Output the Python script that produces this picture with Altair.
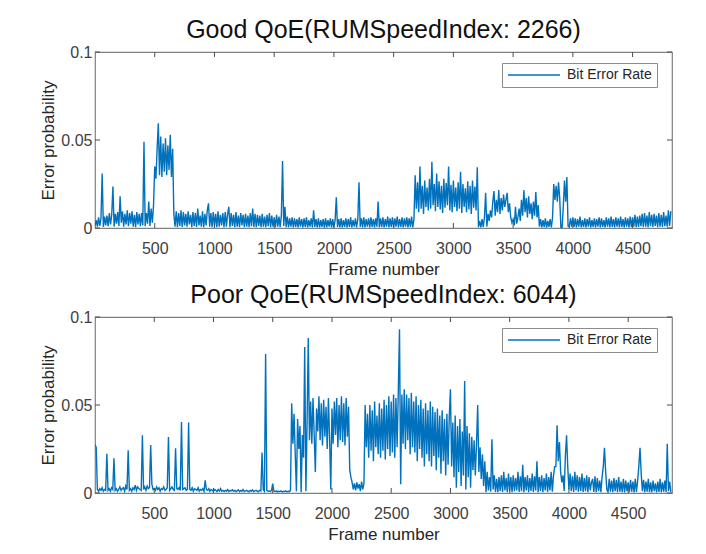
import altair as alt
import pandas as pd

STEP = 10  # frames between stored samples
SERIES = "Bit Error Rate"
LINE_COLOR = "#0072BD"

# Bit error rate, in units of 1e-4, one value every 10 frames
good_ber_e4 = [
    10, 45, 8, 60, 12, 55, 310, 6, 65, 15,
    70, 10, 85, 20, 75, 235, 8, 80, 25, 90,
    12, 180, 30, 95, 8, 80, 20, 100, 10, 85,
    25, 95, 8, 75, 5, 90, 20, 80, 10, 85,
    15, 490, 10, 85, 25, 150, 12, 110, 30, 130,
    350, 280, 450, 595, 300, 520, 290, 480, 320, 510,
    300, 470, 330, 530, 290, 450, 80, 8, 95, 5,
    85, 12, 100, 6, 90, 15, 80, 8, 95, 20,
    75, 5, 90, 12, 85, 6, 110, 15, 70, 8,
    95, 5, 80, 15, 100, 140, 8, 85, 4, 90,
    10, 80, 5, 95, 8, 75, 15, 85, 4, 90,
    8, 80, 120, 5, 85, 12, 75, 4, 90, 8,
    70, 5, 85, 15, 75, 4, 80, 8, 70, 5,
    85, 10, 110, 6, 80, 4, 75, 12, 70, 5,
    80, 8, 65, 4, 75, 10, 85, 5, 70, 8,
    60, 4, 75, 8, 65, 5, 70, 380, 12, 120,
    5, 65, 4, 55, 8, 60, 3, 55, 6, 50,
    4, 60, 8, 50, 3, 55, 6, 60, 4, 45,
    8, 55, 3, 100, 6, 50, 4, 55, 3, 45,
    6, 50, 2, 55, 4, 45, 8, 55, 3, 50,
    4, 45, 175, 6, 50, 3, 55, 4, 45, 6,
    55, 3, 50, 6, 60, 4, 45, 8, 55, 3,
    50, 260, 6, 55, 4, 60, 3, 50, 8, 55,
    4, 60, 6, 50, 3, 55, 8, 150, 4, 55,
    6, 60, 3, 50, 8, 65, 4, 55, 6, 60,
    3, 55, 8, 65, 4, 50, 6, 60, 3, 55,
    8, 60, 4, 55, 6, 65, 3, 50, 300, 110,
    260, 90, 350, 110, 240, 80, 270, 120, 230, 100,
    280, 110, 377, 130, 250, 95, 310, 120, 265, 105,
    240, 85, 280, 115, 255, 130, 350, 100, 245, 90,
    270, 120, 230, 95, 260, 110, 320, 85, 250, 120,
    225, 90, 265, 105, 240, 80, 270, 115, 235, 100,
    345, 5, 40, 3, 50, 6, 60, 200, 8, 80,
    40, 100, 60, 150, 210, 70, 160, 90, 215, 80,
    170, 100, 190, 120, 160, 200, 90, 140, 60, 30,
    50, 15, 120, 25, 60, 110, 40, 160, 70, 215,
    90, 170, 60, 180, 80, 140, 50, 150, 70, 205,
    60, 130, 8, 50, 3, 45, 5, 55, 2, 40,
    6, 50, 3, 60, 250, 160, 240, 150, 260, 170,
    3, 2, 120, 270, 150, 290, 10, 5, 55, 8,
    60, 6, 55, 3, 50, 8, 65, 4, 45, 6,
    55, 3, 50, 8, 60, 4, 45, 6, 55, 3,
    50, 8, 60, 4, 55, 6, 45, 3, 60, 8,
    55, 4, 65, 6, 50, 3, 60, 8, 55, 4,
    65, 6, 50, 4, 60, 8, 55, 3, 65, 6,
    60, 8, 75, 4, 65, 6, 70, 10, 80, 6,
    85, 8, 70, 4, 90, 10, 75, 6, 80, 12,
    70, 4, 85, 8, 75, 6, 90, 10, 70, 8,
    100, 12, 95,
]

poor_ber_e4 = [
    275, 260, 20, 10, 25, 15, 30, 10, 20, 15,
    223, 15, 25, 10, 30, 20, 197, 15, 25, 10,
    20, 35, 15, 25, 30, 10, 40, 20, 243, 15,
    25, 10, 30, 20, 45, 15, 35, 25, 20, 15,
    328, 20, 35, 15, 40, 25, 30, 273, 50, 20,
    25, 15, 35, 20, 30, 10, 25, 20, 35, 15,
    20, 30, 318, 15, 25, 35, 20, 15, 254, 25,
    20, 30, 15, 403, 20, 25, 30, 15, 20, 400,
    20, 15, 30, 10, 25, 20, 15, 30, 10, 20,
    15, 25, 10, 72, 20, 15, 25, 10, 20, 15,
    10, 20, 15, 8, 20, 12, 25, 10, 15, 8,
    15, 10, 20, 8, 15, 12, 18, 10, 15, 8,
    12, 18, 8, 15, 10, 20, 8, 12, 15, 10,
    8, 15, 10, 18, 8, 12, 15, 10, 8, 15,
    12, 230, 20, 10, 790, 15, 10, 12, 8, 15,
    53, 10, 8, 12, 6, 10, 8, 12, 6, 10,
    8, 12, 6, 10, 8, 15, 510, 280, 450, 220,
    10, 420, 250, 380, 5, 330, 200, 830, 10, 400,
    880, 300, 520, 280, 540, 330, 120, 480, 350, 550,
    300, 510, 270, 530, 320, 490, 250, 540, 310, 20,
    480, 280, 520, 330, 540, 260, 500, 300, 550, 290,
    510, 270, 540, 320, 490, 130, 90, 60, 20, 55,
    15, 60, 25, 50, 10, 65, 20, 55, 500, 260,
    450, 200, 500, 240, 470, 180, 520, 260, 440, 220,
    510, 200, 480, 240, 530, 190, 500, 250, 550, 210,
    520, 230, 560, 200, 540, 260, 580, 930, 50, 560,
    280, 590, 250, 560, 300, 540, 220, 570, 260, 520,
    230, 550, 180, 500, 250, 530, 200, 480, 150, 510,
    220, 470, 180, 520, 150, 490, 210, 460, 130, 480,
    200, 440, 110, 470, 180, 420, 100, 450, 160, 430,
    590, 150, 400, 90, 440, 30, 380, 120, 420, 40,
    350, 100, 636, 20, 380, 90, 340, 30, 320, 130,
    300, 100, 280, 500, 120, 260, 80, 220, 40, 180,
    5, 120, 15, 90, 8, 305, 20, 100, 6, 80,
    5, 90, 12, 100, 6, 120, 15, 85, 5, 110,
    12, 90, 4, 100, 10, 85, 15, 120, 6, 95,
    10, 160, 5, 90, 15, 100, 4, 85, 12, 110,
    6, 95, 15, 180, 5, 90, 12, 100, 4, 85,
    15, 110, 6, 90, 15, 120, 8, 100, 150, 150,
    385, 180, 290, 120, 60, 100, 12, 210, 328, 150,
    20, 110, 10, 95, 6, 120, 15, 100, 8, 90,
    12, 110, 6, 85, 10, 100, 5, 90, 15, 60,
    80, 6, 95, 4, 85, 10, 70, 5, 90, 150,
    257, 120, 20, 5, 80, 8, 70, 4, 85, 10,
    75, 4, 90, 8, 65, 5, 80, 3, 70, 10,
    60, 4, 75, 8, 65, 3, 80, 6, 70, 150,
    257, 110, 10, 75, 4, 65, 8, 80, 5, 60,
    4, 70, 10, 55, 3, 65, 6, 80, 4, 60,
    8, 70, 4, 280, 10, 65, 6,
]

x_ticks = [500, 1000, 1500, 2000, 2500, 3000, 3500, 4000, 4500]
y_ticks = [0, 0.05, 0.1]

titles = ["Good QoE(RUMSpeedIndex: 2266)", "Poor QoE(RUMSpeedIndex: 6044)"]
x_max = [4830, 4870]

W, H = 577, 176
TICK_LEN = 5
TICK_COLOR = "#4d4d4d"
FONT = "Liberation Sans"


def panel(values, xmax, title):
    frames = [i * STEP for i in range(len(values))]
    df = pd.DataFrame({
        "frame": frames,
        "ber": [v / 10000 for v in values],
        "series": [SERIES] * len(values),
    })
    xs = alt.Scale(domain=[0, xmax], nice=False, zero=False)
    ys = alt.Scale(domain=[0, 0.1], nice=False, zero=False)
    x_axis = alt.Axis(values=x_ticks, format="d", title="Frame number",
                      labelPadding=12, titlePadding=5)
    y_axis = alt.Axis(values=y_ticks, format="~g", title="Error probability",
                      labelPadding=3, titlePadding=3)

    line = alt.Chart(df).mark_line(strokeWidth=1.4, clip=True).encode(
        x=alt.X("frame:Q", scale=xs, axis=x_axis),
        y=alt.Y("ber:Q", scale=ys, axis=y_axis),
        color=alt.Color("series:N",
                        scale=alt.Scale(domain=[SERIES], range=[LINE_COLOR]),
                        legend=alt.Legend(title=None, orient="none", legendX=407, legendY=11,
                                          symbolType="stroke", symbolSize=2704,
                                          symbolStrokeWidth=1.5, clipHeight=14,
                                          labelFontSize=14, labelFont=FONT,
                                          labelColor="#262626", strokeColor="#8c8c8c",
                                          fillColor="white", padding=5, labelOffset=6)),
    )

    xt = pd.DataFrame({"t": x_ticks})
    yt = pd.DataFrame({"t": y_ticks})
    top_ticks = alt.Chart(xt).mark_rule(color=TICK_COLOR, strokeWidth=1).encode(
        x=alt.X("t:Q", scale=xs, axis=x_axis), y=alt.value(0), y2=alt.value(TICK_LEN))
    bot_ticks = alt.Chart(xt).mark_rule(color=TICK_COLOR, strokeWidth=1).encode(
        x=alt.X("t:Q", scale=xs, axis=x_axis), y=alt.value(H - TICK_LEN), y2=alt.value(H))
    left_ticks = alt.Chart(yt).mark_rule(color=TICK_COLOR, strokeWidth=1).encode(
        y=alt.Y("t:Q", scale=ys, axis=y_axis), x=alt.value(0), x2=alt.value(TICK_LEN))
    right_ticks = alt.Chart(yt).mark_rule(color=TICK_COLOR, strokeWidth=1).encode(
        y=alt.Y("t:Q", scale=ys, axis=y_axis), x=alt.value(W - TICK_LEN), x2=alt.value(W))

    return alt.layer(line, top_ticks, bot_ticks, left_ticks, right_ticks).properties(
        width=W, height=H,
        title=alt.TitleParams(text=title, fontSize=25, font=FONT, fontWeight="normal",
                              color="#111111", offset=1, anchor="middle"),
    )


chart = alt.vconcat(
    panel(good_ber_e4, x_max[0], titles[0]),
    panel(poor_ber_e4, x_max[1], titles[1]),
    spacing=4,
).resolve_scale(
    x="independent", y="independent", color="independent"
).resolve_legend(
    color="independent"
).properties(
    padding={"left": 31, "top": 9, "right": 5, "bottom": 5},
    background="white",
).configure_view(
    stroke="#808080", strokeWidth=1.2
).configure_axis(
    grid=False, domain=False, ticks=False,
    labelFont=FONT, labelFontSize=16, labelColor="#404040",
    titleFont=FONT, titleFontSize=17, titleColor="#262626", titleFontWeight="normal",
)

chart.save("out.html", embed_options={"renderer": "svg", "actions": False})
